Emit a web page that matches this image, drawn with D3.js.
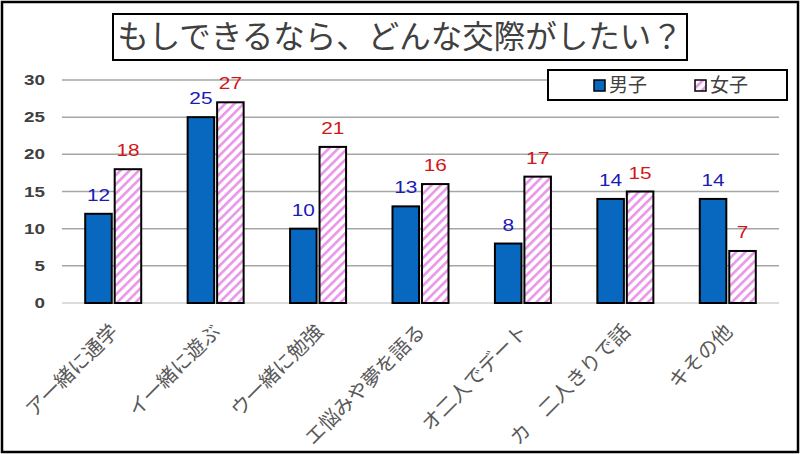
<!DOCTYPE html>
<html>
<head>
<meta charset="utf-8">
<script src="https://cdn.jsdelivr.net/npm/d3@7"></script>
<style>
  body { margin: 0; background: #fff; }
  svg { display: block; }
</style>
</head>
<body>
<div id="chart"></div>
<script>
const categories = ["ア一緒に通学", "イ一緒に遊ぶ", "ウ一緒に勉強", "エ悩みや夢を語る", "オ二人でデート", "カ　二人きりで話", "キその他"];
const boys = [12, 25, 10, 13, 8, 14, 14];
const girls = [18, 27, 21, 16, 17, 15, 7];
const seriesNames = ["男子", "女子"];
const yTicks = [0, 5, 10, 15, 20, 25, 30];

const width = 800;
const height = 454;
const margin = { top: 80, right: 21, bottom: 151, left: 62 };
const jpFont = "'Noto Sans CJK JP', sans-serif";
const numFont = "'Liberation Sans', Arial, sans-serif";
const stretch = 1.3; // numbers in the picture are drawn wide

const svg = d3.select("#chart")
    .append("svg")
    .attr("width", width)
    .attr("height", height);

// stripes for the girls' bars
const defs = svg.append("defs");
const pat = defs.append("pattern")
    .attr("id", "stripe")
    .attr("patternUnits", "userSpaceOnUse")
    .attr("width", 6.5)
    .attr("height", 6.5)
    .attr("patternTransform", "rotate(45)");
pat.append("rect").attr("width", 6.5).attr("height", 6.5).attr("fill", "#fff");
pat.append("rect").attr("width", 2.6).attr("height", 6.5).attr("fill", "#e996e9");

// outer frame
svg.append("rect")
    .attr("x", 2).attr("y", 2)
    .attr("width", width - 4).attr("height", height - 4)
    .attr("fill", "#fff")
    .attr("stroke", "#000")
    .attr("stroke-width", 2.5);

// title box
svg.append("rect")
    .attr("x", 113).attr("y", 14)
    .attr("width", 574).attr("height", 46)
    .attr("fill", "#fff")
    .attr("stroke", "#000")
    .attr("stroke-width", 2);
svg.append("text")
    .attr("x", 400).attr("y", 48)
    .attr("text-anchor", "middle")
    .style("font-family", jpFont)
    .style("font-size", "31.5px")
    .style("fill", "#404040")
    .text("もしできるなら、どんな交際がしたい？");

const plotW = width - margin.left - margin.right;
const plotH = height - margin.top - margin.bottom;

const g = svg.append("g")
    .attr("transform", "translate(" + margin.left + "," + margin.top + ")");

const x = d3.scaleBand().domain(categories).range([0, plotW]).paddingInner(0).paddingOuter(0);
const xs = d3.scaleBand().domain(seriesNames).range([x.bandwidth() / 2 - 28, x.bandwidth() / 2 + 28]).paddingInner(0.1);
const y = d3.scaleLinear().domain([0, 30]).range([plotH, 0]);

// grid lines
g.append("g")
    .selectAll("line")
    .data(yTicks.filter(d => d > 0))
    .join("line")
    .attr("x1", 0).attr("x2", plotW)
    .attr("y1", d => y(d)).attr("y2", d => y(d))
    .attr("stroke", "#a6a6a6")
    .attr("stroke-width", 1.5);

// y axis labels
const yAxis = g.append("g")
    .call(d3.axisLeft(y).tickValues(yTicks).tickSize(0));
yAxis.select(".domain").remove();
yAxis.selectAll("text")
    .attr("x", 0)
    .attr("transform", "translate(-17,0) scale(" + stretch + ",1)")
    .style("font-family", numFont)
    .style("font-size", "14.5px")
    .style("font-weight", "bold")
    .style("fill", "#404040");

// baseline
g.append("line")
    .attr("x1", 0).attr("x2", plotW)
    .attr("y1", y(0)).attr("y2", y(0))
    .attr("stroke", "#d0d0d0")
    .attr("stroke-width", 1.5);

const rows = categories.map((c, i) => ({ cat: c, vals: [boys[i], girls[i]] }));

const groups = g.append("g")
    .selectAll("g")
    .data(rows)
    .join("g")
    .attr("transform", d => "translate(" + x(d.cat) + ",0)");

groups.selectAll("rect")
    .data(d => d.vals.map((v, j) => ({ key: seriesNames[j], v: v })))
    .join("rect")
    .attr("x", d => xs(d.key))
    .attr("y", d => y(d.v))
    .attr("width", xs.bandwidth())
    .attr("height", d => y(0) - y(d.v))
    .attr("fill", d => d.key === "男子" ? "#0868c0" : "url(#stripe)")
    .attr("stroke", "#000")
    .attr("stroke-width", 2);

groups.selectAll("text.val")
    .data(d => d.vals.map((v, j) => ({ key: seriesNames[j], v: v })))
    .join("text")
    .attr("class", "val")
    .attr("transform", d => "translate(" + (xs(d.key) + xs.bandwidth() / 2) + "," + (y(d.v) - 13) + ") scale(" + stretch + ",1)")
    .attr("text-anchor", "middle")
    .style("font-family", numFont)
    .style("font-size", "16px")
    .style("fill", d => d.key === "男子" ? "#1a1ab8" : "#d01818")
    .text(d => d.v);

// category labels, rotated
g.append("g")
    .selectAll("text")
    .data(categories)
    .join("text")
    .attr("transform", d => "translate(" + (x(d) + x.bandwidth() / 2 + 1) + "," + (plotH + 25) + ") rotate(-45)")
    .attr("text-anchor", "end")
    .attr("dy", "0.35em")
    .style("font-family", jpFont)
    .style("font-size", "20px")
    .style("fill", "#595959")
    .text(d => d);

// legend
const lg = svg.append("g");
lg.append("rect")
    .attr("x", 548).attr("y", 70)
    .attr("width", 239).attr("height", 30)
    .attr("fill", "#fff")
    .attr("stroke", "#000")
    .attr("stroke-width", 2);
const legendX = [594, 695];
seriesNames.forEach((s, i) => {
    lg.append("rect")
        .attr("x", legendX[i]).attr("y", 80)
        .attr("width", 11).attr("height", 11)
        .attr("fill", i === 0 ? "#0868c0" : "url(#stripe)")
        .attr("stroke", "#000")
        .attr("stroke-width", 1.5);
    lg.append("text")
        .attr("x", legendX[i] + 15).attr("y", 92)
        .style("font-family", jpFont)
        .style("font-size", "19px")
        .style("fill", "#404040")
        .text(s);
});
</script>
</body>
</html>
